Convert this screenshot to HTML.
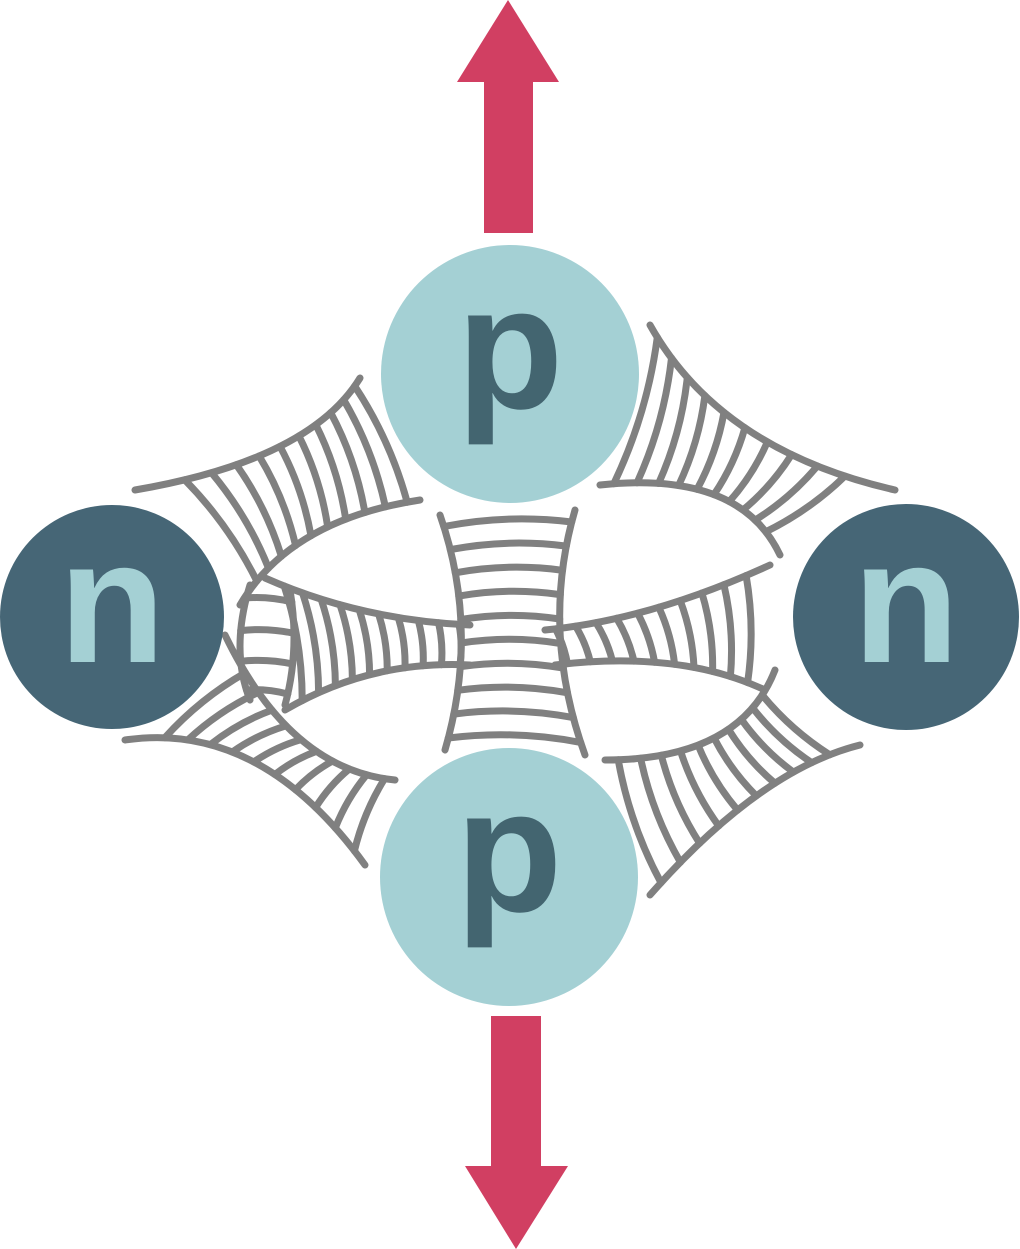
<!DOCTYPE html>
<html><head><meta charset="utf-8"><style>
html,body{margin:0;padding:0;background:#fff;}
svg{display:block;}
</style></head><body>
<svg id="s" width="1020" height="1249" viewBox="0 0 1020 1249" xmlns="http://www.w3.org/2000/svg">
<g fill="#d13f62">
<rect x="484" y="80" width="49" height="153"/>
<polygon points="457,82 559,82 508,0"/>
<rect x="491" y="1016" width="50" height="152"/>
<polygon points="465,1166 568,1166 516,1249"/>
</g>
<g id="web" fill="none" stroke="#808080" stroke-width="7" stroke-linecap="round"></g>
<circle cx="510" cy="374" r="129" fill="#a4d0d4"/>
<circle cx="509" cy="877" r="129" fill="#a4d0d4"/>
<circle cx="112" cy="617" r="112" fill="#466676"/>
<circle cx="906" cy="617" r="113" fill="#466676"/>
<g font-family="Liberation Sans, DejaVu Sans, sans-serif" font-weight="bold" font-size="175" text-anchor="middle">
<text x="510" y="408" fill="#436570">p</text>
<text x="509" y="911" fill="#436570">p</text>
<text x="112" y="662" fill="#a4d0d4">n</text>
<text x="906" y="662" fill="#a4d0d4">n</text>
</g>
</svg>
<script>
var g=document.getElementById('web');
function q(p,t){var a=1-t;return [a*a*p[0]+2*a*t*p[2]+t*t*p[4],a*a*p[1]+2*a*t*p[3]+t*t*p[5]];}
function path(d){var e=document.createElementNS('http://www.w3.org/2000/svg','path');e.setAttribute('d',d);g.appendChild(e);}
function ladder(A,B,n,t0,t1){
 path('M'+A[0]+','+A[1]+' Q'+A[2]+','+A[3]+' '+A[4]+','+A[5]);
 path('M'+B[0]+','+B[1]+' Q'+B[2]+','+B[3]+' '+B[4]+','+B[5]);
 for(var i=0;i<n;i++){var t=t0+(t1-t0)*i/(n-1);var a=q(A,t),b=q(B,t);
  var mx=(a[0]+b[0])/2+(b[1]-a[1])*0.08,my=(a[1]+b[1])/2-(b[0]-a[0])*0.08;
  path('M'+a[0].toFixed(1)+','+a[1].toFixed(1)+' Q'+mx.toFixed(1)+','+my.toFixed(1)+' '+b[0].toFixed(1)+','+b[1].toFixed(1));}
}
ladder([135,490,310,460,360,378],[240,605,290,520,420,500],10,0.15,0.95);
ladder([650,325,720,450,895,490],[600,485,740,470,780,555],10,0.05,0.85);
ladder([125,740,260,720,365,865],[225,635,290,770,395,780],10,0.15,0.95);
ladder([650,895,760,770,860,745],[605,760,740,760,775,670],10,0.05,0.85);
ladder([265,578,360,620,470,625],[285,710,370,660,470,665],10,0.1,0.95);
ladder([545,630,650,620,770,565],[555,665,680,650,765,690],10,0.05,0.9);
ladder([440,515,480,630,445,750],[575,510,540,630,585,755],10,0.05,0.95);
ladder([250,585,230,650,250,700],[290,590,300,650,285,705],4,0.1,0.9);
</script>
</body></html>
